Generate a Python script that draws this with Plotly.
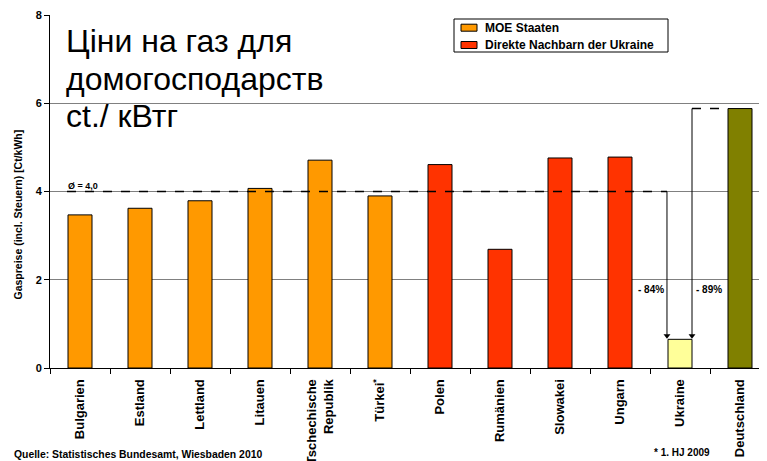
import plotly.graph_objects as go

categories = ["Bulgarien", "Estland", "Lettland", "Litauen", "Tschechische<br>Republik",
              "Türkei<sup>*</sup>", "Polen", "Rumänien", "Slowakei", "Ungarn", "Ukraine", "Deutschland"]
values = [3.47, 3.62, 3.79, 4.07, 4.71, 3.90, 4.61, 2.69, 4.76, 4.78, 0.65, 5.88]
groups = ["MOE", "MOE", "MOE", "MOE", "MOE", "MOE", "NB", "NB", "NB", "NB", "UA", "DE"]
average = 4.0
pct_labels = ["- 84%", "- 89%"]
legend_names = ["MOE Staaten", "Direkte Nachbarn der Ukraine"]

colors = {"MOE": "#FF9900", "NB": "#FF3300", "UA": "#FFFF99", "DE": "#808000"}

FONT = "Liberation Sans, Arial, sans-serif"

fig = go.Figure()
fig.add_trace(go.Bar(x=categories, y=values, width=0.4, showlegend=False,
                     marker=dict(color=[colors[g] for g in groups],
                                 line=dict(color="black", width=1))))

ia = categories.index("Ukraine")
de = categories.index("Deutschland")
x1 = ia - 0.217
x2 = ia + 0.2
# average dashed line
fig.add_shape(type="line", x0=-0.217, x1=x1, y0=average, y1=average, xref="x", yref="y",
              line=dict(color="black", width=1.5, dash="dash"))
fig.add_shape(type="line", x0=x1, x1=x1, y0=average, y1=values[ia] + 0.1, xref="x", yref="y",
              line=dict(color="black", width=1))
# Deutschland dashed line
fig.add_shape(type="line", x0=x2, x1=de - 0.217, y0=values[de], y1=values[de], xref="x", yref="y",
              line=dict(color="black", width=1.5, dash="dash"))
fig.add_shape(type="line", x0=x2, x1=x2, y0=values[de], y1=values[ia] + 0.1, xref="x", yref="y",
              line=dict(color="black", width=1))
# arrow heads
fig.add_trace(go.Scatter(x=[x1, x2], y=[values[ia] + 0.08] * 2, mode="markers", showlegend=False,
                         marker=dict(symbol="triangle-down", size=6, color="black"),
                         hoverinfo="skip", xaxis="x2"))

fig.add_annotation(x=x1 - 0.02, y=1.77, xref="x2", yref="y", text="<b>" + pct_labels[0] + "</b>",
                   showarrow=False, xanchor="right", font=dict(size=10, color="black", family=FONT))
fig.add_annotation(x=x2 + 0.03, y=1.77, xref="x2", yref="y", text="<b>" + pct_labels[1] + "</b>",
                   showarrow=False, xanchor="left", font=dict(size=10, color="black", family=FONT))
fig.add_annotation(x=-0.23, y=average, xref="x2", yref="y", text="<b>Ø = 4,0</b>",
                   showarrow=False, xanchor="left", yanchor="bottom", yshift=-1,
                   font=dict(size=9, color="black", family=FONT))

# screen-pixel helpers (plot area spans x 50..767, y 15..368 on screen)
W0, PW, B0, PH = 50, 717, 368, 353
def px(x):
    return (x - W0) / PW
def py(y):
    return (B0 - y) / PH

title_lines = ["Ціни на газ для", "домогосподарств", "ct./ кВтг"]
for line, yc in zip(title_lines, [41, 79, 116]):
    fig.add_annotation(x=px(64), y=py(yc), xref="paper", yref="paper", xanchor="left",
                       yanchor="middle", showarrow=False, text=line,
                       font=dict(size=32, color="black", family=FONT))

# legend box
fig.add_shape(type="rect", x0=px(454), x1=px(668), y0=py(52), y1=py(19), xref="paper", yref="paper",
              line=dict(color="black", width=1), fillcolor="white")
for name, c, yc in zip(legend_names, [colors["MOE"], colors["NB"]], [27.7, 45]):
    fig.add_shape(type="rect", x0=px(461), x1=px(477), y0=py(yc + 3.5), y1=py(yc - 3.5),
                  xref="paper", yref="paper", line=dict(color="black", width=1), fillcolor=c)
    fig.add_annotation(x=px(483), y=py(yc), xref="paper", yref="paper", xanchor="left",
                       yanchor="middle", showarrow=False, text="<b>" + name + "</b>",
                       font=dict(size=12, color="black", family=FONT))

# the page body has an 8px margin, so the figure is sized/offset accordingly
fig.update_layout(
    width=759, height=453,
    margin=dict(l=42, r=0, t=7, b=93),
    paper_bgcolor="white", plot_bgcolor="white",
    font=dict(family=FONT, color="black"),
    showlegend=False,
    xaxis=dict(categoryorder="array", categoryarray=categories, range=[-0.5, 11.45],
               automargin=False,
               showline=True, linecolor="black", linewidth=1,
               ticks="outside", ticklen=5, tickcolor="black", tickson="boundaries",
               ticklabelstandoff=5,
               tickangle=-90, tickfont=dict(size=13, family=FONT, color="black", weight="bold"),
               showgrid=False),
    xaxis2=dict(overlaying="x", range=[-0.5, 11.45], visible=False),
    yaxis=dict(range=[0, 8], tickvals=[0, 2, 4, 6, 8], showline=True, linecolor="black",
               automargin=False,
               linewidth=1, ticks="outside", ticklen=5, tickcolor="black",
               showgrid=True, gridcolor="#808080", gridwidth=1, zeroline=False,
               tickfont=dict(size=11, family=FONT, color="black", weight="bold")),
)

fig.add_annotation(x=px(17.5), y=py(215), xref="paper", yref="paper", textangle=-90,
                   text="<b>Gaspreise (incl. Steuern) [Ct/kWh]</b>", showarrow=False,
                   xanchor="center", yanchor="middle", font=dict(size=10.5, family=FONT, color="black"))
fig.add_annotation(x=px(12), y=py(454), xref="paper", yref="paper", yanchor="middle", xanchor="left",
                   text="<b>Quelle: Statistisches Bundesamt, Wiesbaden 2010</b>",
                   showarrow=False, font=dict(size=10.4, family=FONT, color="black"))
fig.add_annotation(x=px(652), y=py(452), xref="paper", yref="paper", yanchor="middle", xanchor="left",
                   text="<b>* 1. HJ 2009</b>",
                   showarrow=False, font=dict(size=10, family=FONT, color="black"))

fig.write_html("out.html")
